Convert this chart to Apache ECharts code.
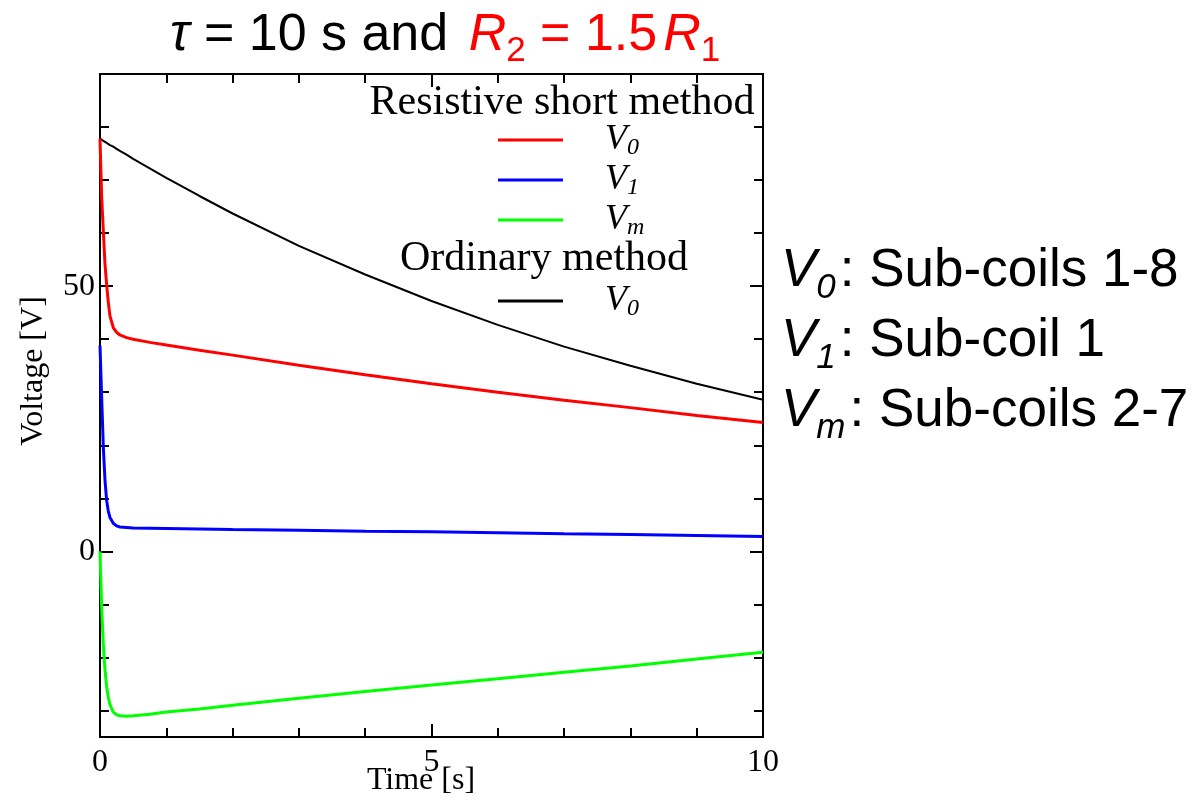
<!DOCTYPE html>
<html>
<head>
<meta charset="utf-8">
<script src="https://cdn.jsdelivr.net/npm/echarts@6/dist/echarts.min.js"></script>
<style>html,body{margin:0;padding:0;background:#fff}#c{width:1197px;height:800px}</style>
</head>
<body>
<div id="c"></div>
<script>
// ---- data ----
const times = [0, 0.025, 0.05, 0.075, 0.1, 0.125, 0.15, 0.2, 0.25, 0.3, 0.4, 0.5, 0.75, 1, 1.5, 2, 3, 4, 5, 6, 7, 8, 9, 10];
const rsV0 = [77.8, 66.8, 60.5, 54.2, 50.3, 47.0, 44.4, 42.2, 41.3, 40.8, 40.3, 40.0, 39.4, 38.9, 37.9, 37.0, 35.1, 33.3, 31.6, 30.0, 28.5, 27.1, 25.6, 24.3];
const rsV1 = [38.8, 29.1, 19.6, 13.5, 9.6, 7.6, 6.4, 5.3, 4.8, 4.6, 4.5, 4.4, 4.35, 4.3, 4.2, 4.1, 4.0, 3.8, 3.7, 3.5, 3.3, 3.2, 3.0, 2.8];
const rsVm = [0, -10.6, -17.5, -22.3, -25.5, -27.5, -28.9, -30.3, -30.8, -31.0, -31.1, -31.0, -30.7, -30.3, -29.7, -29.0, -27.7, -26.4, -25.2, -24.0, -22.8, -21.6, -20.3, -19.0];
const ordV0 = [77.8, 77.6, 77.4, 77.2, 77.0, 76.8, 76.6, 76.3, 75.9, 75.5, 74.8, 74.0, 72.2, 70.4, 67.0, 63.7, 57.6, 52.2, 47.2, 42.7, 38.6, 35.0, 31.6, 28.6];
const xLabelTicks = [0, 5, 10];
const yLabelTicks = [0, 50];
const yMinorTicks = [-30, -20, -10, 10, 20, 30, 40, 60, 70, 80];
const legendLabels = {rsV0: ['V', '0'], rsV1: ['V', '1'], rsVm: ['V', 'm'], ordV0: ['V', '0']};
const annotations = [['V', '0', ': Sub-coils 1-8'], ['V', '1', ': Sub-coil 1'], ['V', 'm', ': Sub-coils 2-7']];

const pairs = arr => times.map((t, i) => [t, arr[i]]);
const SERIF = 'Liberation Serif';
const SANS = 'Liberation Sans';

const chart = echarts.init(document.getElementById('c'), null, {renderer: 'canvas'});

const axisLineStyle = {color: '#000', width: 2};
function xAx(pos, labels) {
  return {
    type: 'value', position: pos, min: 0, max: 10, interval: 5,
    axisLine: {show: true, onZero: false, lineStyle: axisLineStyle},
    axisTick: {show: true, inside: true, length: 13, lineStyle: {color: '#000', width: 2}},
    minorTick: {show: true, splitNumber: 5, length: 9, lineStyle: {color: '#000', width: 2}},
    axisLabel: {show: labels, fontFamily: SERIF, fontSize: 32, color: '#000', margin: 10,
      formatter: v => xLabelTicks.includes(v) ? String(v) : ''},
    splitLine: {show: false}, minorSplitLine: {show: false}
  };
}
function yAx(pos, ticks, len, labels, line) {
  return {
    type: 'value', position: pos, min: -35, max: 90,
    axisLine: {show: line, onZero: false, lineStyle: axisLineStyle},
    axisTick: {show: true, inside: true, length: len, customValues: ticks, lineStyle: {color: '#000', width: 2}},
    axisLabel: {show: labels, customValues: ticks, fontFamily: SERIF, fontSize: 32, color: '#000', margin: 5},
    splitLine: {show: false}
  };
}

const legendRich = {
  v: {fontFamily: SERIF, fontStyle: 'italic', fontSize: 36, lineHeight: 40, color: '#000', verticalAlign: 'middle'},
  s: {fontFamily: SERIF, fontStyle: 'italic', fontSize: 24, lineHeight: 22, color: '#000', verticalAlign: 'bottom'}
};
const legendFmt = name => '{v|' + legendLabels[name][0] + '}{s|' + legendLabels[name][1] + '}';

const annRich = {
  v: {fontFamily: SANS, fontStyle: 'italic', fontWeight: 'normal', fontSize: 53, lineHeight: 70, color: '#000', verticalAlign: 'middle'},
  s: {fontFamily: SANS, fontStyle: 'italic', fontWeight: 'normal', fontSize: 35, lineHeight: 30, color: '#000', verticalAlign: 'bottom', padding: [0, 4, 0, 0]},
  t: {fontFamily: SANS, fontWeight: 'normal', fontSize: 53, lineHeight: 70, color: '#000', verticalAlign: 'middle'}
};
const annTitles = annotations.map((a, i) => ({
  text: '{v|' + a[0] + '}{s|' + a[1] + '}{t|' + a[2] + '}',
  left: 781, top: 236 + i * 70, padding: 0,
  textStyle: {fontWeight: 'normal', rich: annRich}
}));

const tBase = {fontFamily: SANS, fontWeight: 'normal', fontSize: 52, lineHeight: 66, verticalAlign: 'middle'};
const tRich = {
  ti: Object.assign({}, tBase, {fontStyle: 'italic', color: '#000'}),
  n: Object.assign({}, tBase, {color: '#000'}),
  ri: Object.assign({}, tBase, {fontStyle: 'italic', color: '#ff0000', padding: [0, 0, 0, 6]}),
  r: Object.assign({}, tBase, {color: '#ff0000'}),
  rs: {fontFamily: SANS, fontWeight: 'normal', fontSize: 35, lineHeight: 30, color: '#ff0000', verticalAlign: 'bottom'}
};

const option = {
  animation: false,
  backgroundColor: '#fff',
  title: [{
    text: '{ti|τ}{n| = 10 s and }{ri|R}{rs|2}{r| = 1.5}{ri|R}{rs|1}',
    left: 170, top: 3, padding: 0,
    textStyle: {fontWeight: 'normal', rich: tRich}
  }].concat(annTitles),
  grid: {left: 100, top: 74, right: 434, bottom: 63, containLabel: false},
  xAxis: [xAx('bottom', true), xAx('top', false)],
  yAxis: [
    yAx('left', yLabelTicks, 13, true, true),
    yAx('left', yMinorTicks, 9, false, false),
    yAx('right', yLabelTicks, 13, false, true),
    yAx('right', yMinorTicks, 9, false, false)
  ],
  legend: [{
    data: ['rsV0', 'rsV1', 'rsVm'], orient: 'vertical', left: 498, top: 120,
    icon: 'rect', itemWidth: 65, itemHeight: 3, itemGap: 0, padding: 0,
    formatter: legendFmt,
    textStyle: {padding: [0, 0, 0, 37], lineHeight: 40, rich: legendRich}
  }, {
    data: ['ordV0'], orient: 'vertical', left: 498, top: 281,
    icon: 'rect', itemWidth: 65, itemHeight: 3, itemGap: 0, padding: 0,
    formatter: legendFmt,
    textStyle: {padding: [0, 0, 0, 37], lineHeight: 40, rich: legendRich}
  }],
  graphic: [
    {type: 'text', x: 562, y: 103, style: {text: 'Resistive short method', fontFamily: SERIF, fontSize: 42, fill: '#000', align: 'center', verticalAlign: 'middle'}},
    {type: 'text', x: 544, y: 259, style: {text: 'Ordinary method', fontFamily: SERIF, fontSize: 42, fill: '#000', align: 'center', verticalAlign: 'middle'}},
    {type: 'text', x: 421, y: 781, style: {text: 'Time [s]', fontFamily: SERIF, fontSize: 32, fill: '#000', align: 'center', verticalAlign: 'middle'}},
    {type: 'text', x: 34, y: 371, rotation: Math.PI / 2, style: {text: 'Voltage [V]', fontFamily: SERIF, fontSize: 32, fill: '#000', align: 'center', verticalAlign: 'middle'}}
  ],
  series: [
    {name: 'ordV0', type: 'line', data: pairs(ordV0), symbol: 'none', lineStyle: {color: '#000', width: 2}, itemStyle: {color: '#000'}},
    {name: 'rsV0', type: 'line', data: pairs(rsV0), symbol: 'none', lineStyle: {color: '#ff0000', width: 3}, itemStyle: {color: '#ff0000'}},
    {name: 'rsV1', type: 'line', data: pairs(rsV1), symbol: 'none', lineStyle: {color: '#0000ff', width: 3}, itemStyle: {color: '#0000ff'}},
    {name: 'rsVm', type: 'line', data: pairs(rsVm), symbol: 'none', lineStyle: {color: '#00ff00', width: 3}, itemStyle: {color: '#00ff00'}}
  ]
};
chart.setOption(option);
</script>
</body>
</html>
